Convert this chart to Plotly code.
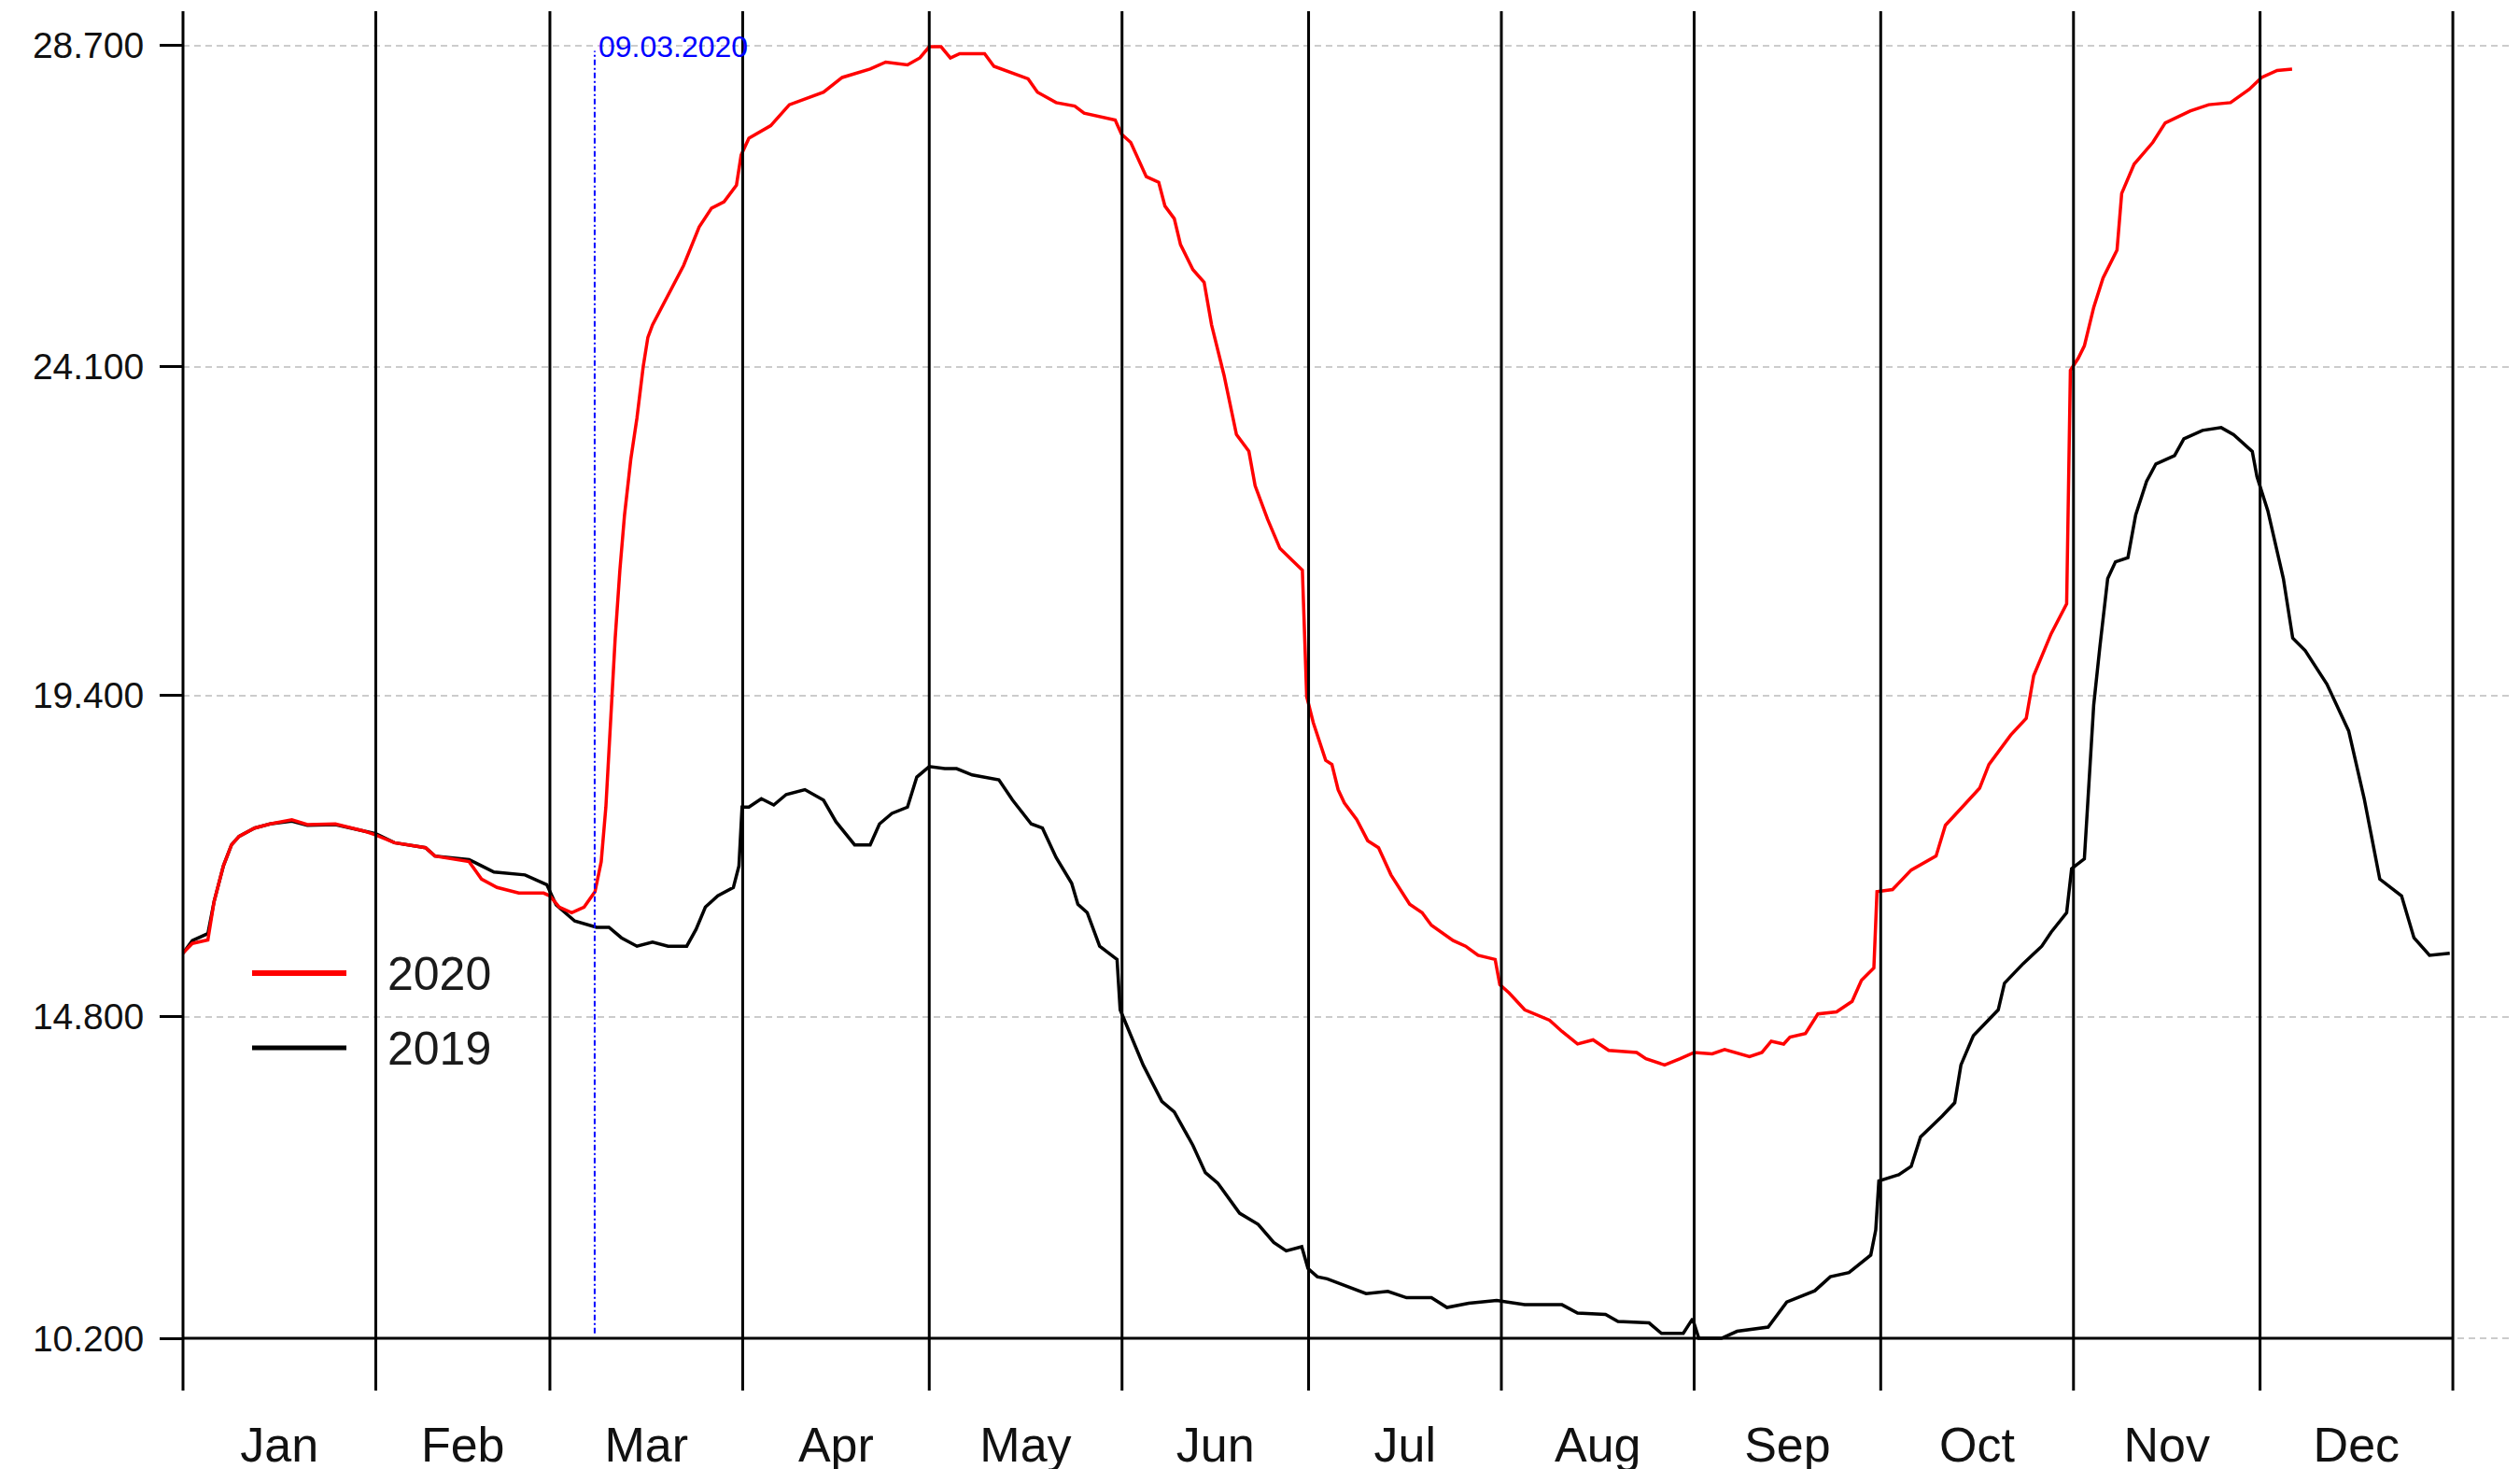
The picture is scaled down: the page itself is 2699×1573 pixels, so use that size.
import plotly.graph_objects as go

# ---------------- data (day of year, 0 = 1 Jan) ----------------
days_2019 = [0, 1.5, 4, 5, 6.5, 7.8, 9, 11.5, 14, 17.5, 20, 24.5, 29, 31, 34, 39, 40.5, 46, 48, 50, 55, 58.5,
             60, 63, 66.5, 68.5, 70.5, 73, 75.5, 78, 81, 82.5, 84, 86, 88.5, 89.4, 89.9, 91, 93, 95, 97, 100,
             103, 105, 108, 110.5, 112, 114, 116.5, 118, 120, 122.5, 124.4, 126.9, 131.2, 133.4, 136.4, 138.2,
             140.4, 142.9, 143.9, 145.4, 147.4, 150.2, 150.7, 151.4, 154.4, 157.4, 159.4, 162.4, 164.4, 166.4,
             169.9, 172.9, 175.4, 177.4, 179.9, 180.9, 182.4, 184, 186.75, 190.25, 193.75, 196.75, 200.75,
             203.25, 206.75, 211.25, 215.75, 221.75, 224.25, 228.75, 230.75, 235.75, 237.75, 241.25, 242.75,
             243.75, 247.4, 249.9, 254.9, 257.9, 262.4, 264.9, 267.9, 271.4, 272.2, 272.7, 275.9, 277.9, 279.4,
             282.9, 284.9, 285.9, 287.9, 291.9, 292.9, 295.9, 298.9, 300.4, 302.9, 303.7, 305.75, 306.25,
             307.25, 308.25, 309.5, 310.75, 312.75, 314, 315.75, 317.25, 320.25, 321.75, 324.75, 327.75,
             329.75, 332.75, 333.5, 335.25, 337.75, 339.25, 341.25, 344.75, 348.25, 350.75, 353.25, 356.75,
             358.75, 361.25, 364.5]
vals_2019 = [15.71, 15.89, 15.99, 16.45, 16.96, 17.26, 17.38, 17.50, 17.56, 17.60, 17.54, 17.55, 17.46, 17.42,
             17.29, 17.22, 17.10, 17.05, 16.96, 16.87, 16.83, 16.69,
             16.40, 16.17, 16.08, 16.08, 15.93, 15.81, 15.87, 15.81, 15.81, 16.05, 16.37, 16.53, 16.65, 16.96,
             17.80, 17.80, 17.92, 17.83, 17.98, 18.05,
             17.90, 17.59, 17.26, 17.26, 17.56, 17.71, 17.80, 18.23, 18.38, 18.35, 18.35, 18.26, 18.19, 17.90,
             17.56, 17.50,
             17.08, 16.71, 16.41, 16.29, 15.81, 15.62, 14.90, 14.75, 14.11, 13.59, 13.44, 12.96, 12.57, 12.42,
             11.99, 11.83, 11.57, 11.45, 11.51, 11.20, 11.08, 11.05, 10.96, 10.84, 10.87, 10.78, 10.78,
             10.64, 10.70, 10.74, 10.68, 10.68, 10.56, 10.54, 10.44, 10.42, 10.27, 10.27, 10.48,
             10.20, 10.20, 10.30, 10.36, 10.72, 10.88, 11.08, 11.14, 11.39, 11.75, 12.45, 12.54, 12.66, 13.08,
             13.38, 13.57, 14.11, 14.53, 14.90, 15.28, 15.56, 15.81, 16.01, 16.29, 16.92, 17.06, 17.80,
             19.26, 20.10, 21.07, 21.31, 21.37, 21.98, 22.46, 22.71, 22.83, 23.07, 23.19, 23.23,
             23.13, 22.89, 22.53, 22.04, 21.07, 20.22, 20.04, 19.56, 18.89, 17.92, 16.77, 16.53,
             15.93, 15.68, 15.71]

days_2020 = [0, 1.5, 4, 5, 6.5, 7.8, 9, 11.5, 14, 17.5, 20, 24.5, 29, 31, 34, 39, 40.5, 46, 48, 50.5, 54, 58,
             59, 60.5, 62.5, 64.5, 66.25, 67.25, 68, 68.75, 69.5, 70.25, 71, 72, 73, 74, 74.75, 75.5, 78, 80.5,
             83, 85, 87, 89, 89.75, 91, 94.5, 97.5, 103, 106, 110.5, 113, 116.5, 118.5, 120, 121.9, 123.4,
             124.9, 128.9, 130.4, 135.9, 137.4, 140.4, 143.4, 144.9, 149.9, 150.9, 152.4, 154.9, 156.9, 157.9,
             159.4, 160.4, 162.4, 164.2, 165.4, 167.4, 169.4, 171.4, 172.4, 174.4, 176.4, 177.9, 180, 180.7,
             181.75, 183.75, 184.75, 185.75, 186.75, 188.75, 190.5, 192.25, 194.25, 197.25, 199.25, 200.75,
             204.25, 206.25, 208.25, 211, 211.75, 213.25, 215.75, 219.75, 221.75, 224.25, 226.75, 229.25,
             233.75, 235.25, 238.25, 240.75, 243, 245.9, 247.9, 251.9, 253.9, 255.4, 257.4, 258.4, 260.9,
             262.9, 265.9, 268.4, 269.9, 271.9, 272.4, 274.9, 277.9, 281.9, 283.4, 285.9, 288.9, 290.4, 293.9,
             296.4, 297.6, 300.4, 302.9, 303.5, 304.75, 305.75, 307.25, 308.75, 311, 311.75, 313.75, 316.75,
             318.75, 322.75, 325.75, 329.25, 332.25, 334.25, 336.75, 339.15]
vals_2020 = [15.71, 15.85, 15.90, 16.45, 16.96, 17.26, 17.38, 17.50, 17.56, 17.62, 17.55, 17.56, 17.46, 17.40,
             17.29, 17.22, 17.10, 17.02, 16.77, 16.65, 16.57, 16.57,
             16.53, 16.37, 16.29, 16.37, 16.59, 17.02, 17.80, 19.01, 20.22, 21.19, 21.98, 22.77, 23.37, 24.10,
             24.52, 24.70, 25.13, 25.55,
             26.10, 26.37, 26.46, 26.70, 27.13, 27.37, 27.55, 27.85, 28.03, 28.24, 28.36, 28.46, 28.42, 28.52,
             28.68, 28.68, 28.52,
             28.58, 28.58, 28.40, 28.22, 28.03, 27.88, 27.83, 27.73, 27.63, 27.43, 27.31, 26.82, 26.74, 26.40,
             26.22, 25.85, 25.49, 25.31, 24.70, 23.98, 23.13, 22.89, 22.40, 21.92, 21.50, 21.37, 21.19, 19.38,
             19.01, 18.47, 18.41, 18.05, 17.86, 17.62, 17.32, 17.22, 16.83, 16.41, 16.29, 16.11,
             15.89, 15.81, 15.68, 15.62, 15.26, 15.14, 14.90, 14.75, 14.59, 14.41, 14.47, 14.32,
             14.29, 14.20, 14.11, 14.20, 14.29, 14.27, 14.33, 14.23, 14.29, 14.45, 14.41, 14.51, 14.56,
             14.84, 14.87, 15.02, 15.32, 15.50, 16.59, 16.62, 16.90, 17.10, 17.54, 17.78, 18.07, 18.41, 18.83,
             19.07, 19.68, 20.28, 20.71, 24.05, 24.22, 24.40, 24.95, 25.37, 25.77, 26.58, 27.00, 27.31,
             27.59, 27.76, 27.85, 27.88, 28.07, 28.24, 28.34, 28.36]

month_labels = ["Jan", "Feb", "Mar", "Apr", "May", "Jun", "Jul", "Aug", "Sep", "Oct", "Nov", "Dec"]
month_starts = [0, 31, 59, 90, 120, 151, 181, 212, 243, 273, 304, 334, 365]
month_mids = [15.5, 45, 74.5, 105, 135.5, 166, 196.5, 227.5, 258, 288.5, 319, 349.5]
y_ticks = [10.2, 14.8, 19.4, 24.1, 28.7]
y_ticktext = ["10.200", "14.800", "19.400", "24.100", "28.700"]
event_day = 66.2
event_label = "09.03.2020"
series_names = ["2020", "2019"]

# ---------------- layout geometry ----------------
W, H = 2699, 1573
OFF = 8  # page body margin of the exported html
ML, MR, MT, MB = 196 - OFF, OFF, 12 - OFF, H - (1489 - OFF)
X_RANGE = [0, 375.8]
Y_RANGE = [9.452, 29.188]
FONT = "Liberation Sans, Arial, sans-serif"


def px_to_paper_x(px):
    return (px - OFF - ML) / (W - ML - MR)


def px_to_paper_y(py):
    return (H - MB - (py - OFF)) / (H - MT - MB)


def day_to_paper_x(d):
    return (d - X_RANGE[0]) / (X_RANGE[1] - X_RANGE[0]) * (2699 - 196) / (W - ML - MR)


fig = go.Figure()
fig.add_trace(go.Scatter(x=days_2019, y=vals_2019, mode="lines", name=series_names[1],
                         line=dict(color="#000000", width=3.5), showlegend=False))
fig.add_trace(go.Scatter(x=days_2020, y=vals_2020, mode="lines", name=series_names[0],
                         line=dict(color="#ff0000", width=3.5), showlegend=False))

shapes = []
for d in month_starts:
    shapes.append(dict(type="line", xref="paper", yref="paper",
                       x0=day_to_paper_x(d), x1=day_to_paper_x(d), y0=0, y1=1,
                       line=dict(color="black", width=3), layer="above"))
shapes.append(dict(type="line", xref="paper", yref="y",
                   x0=day_to_paper_x(0), x1=day_to_paper_x(365), y0=y_ticks[0], y1=y_ticks[0],
                   line=dict(color="black", width=3), layer="above"))
shapes.append(dict(type="line", xref="x", yref="y", x0=event_day, x1=event_day, y0=10.27, y1=28.62,
                   line=dict(color="#0000ff", width=2, dash="6px,3px,2px,3px"), layer="above"))
shapes.append(dict(type="line", xref="paper", yref="paper",
                   x0=px_to_paper_x(270), x1=px_to_paper_x(371),
                   y0=px_to_paper_y(1042), y1=px_to_paper_y(1042),
                   line=dict(color="#ff0000", width=6)))
shapes.append(dict(type="line", xref="paper", yref="paper",
                   x0=px_to_paper_x(270), x1=px_to_paper_x(371),
                   y0=px_to_paper_y(1122), y1=px_to_paper_y(1122),
                   line=dict(color="#000000", width=5)))

annotations = [
    dict(xref="x", yref="y", x=event_day, y=28.68, text=event_label, showarrow=False,
         xanchor="left", yanchor="middle", xshift=2,
         font=dict(family=FONT, size=32, color="#0000ff")),
    dict(xref="paper", yref="paper", x=px_to_paper_x(413), y=px_to_paper_y(1043), text=series_names[0],
         showarrow=False, xanchor="left", yanchor="middle",
         font=dict(family=FONT, size=50, color="#1a1a1a")),
    dict(xref="paper", yref="paper", x=px_to_paper_x(413), y=px_to_paper_y(1123), text=series_names[1],
         showarrow=False, xanchor="left", yanchor="middle",
         font=dict(family=FONT, size=50, color="#1a1a1a")),
]

fig.update_layout(
    width=W, height=H,
    margin=dict(l=ML, r=MR, t=MT, b=MB, pad=0),
    paper_bgcolor="white", plot_bgcolor="white",
    showlegend=False,
    shapes=shapes, annotations=annotations,
    xaxis=dict(range=[X_RANGE[0], X_RANGE[0] + (X_RANGE[1] - X_RANGE[0]) * (W - ML - MR) / (2699 - 196)],
               tickvals=month_mids, ticktext=month_labels, ticks="",
               showgrid=False, zeroline=False, showline=False,
               tickfont=dict(family=FONT, size=52, color="#111111"),
               ticklabelstandoff=23, fixedrange=True),
    yaxis=dict(range=Y_RANGE, tickvals=y_ticks, ticktext=y_ticktext, ticks="outside",
               ticklen=24, tickwidth=3, tickcolor="black",
               showgrid=True, gridcolor="#cccccc", gridwidth=2, griddash="7px,5px",
               zeroline=False, showline=False,
               tickfont=dict(family=FONT, size=39, color="#111111"),
               ticklabelstandoff=9, fixedrange=True),
)

fig.write_html("out.html")
